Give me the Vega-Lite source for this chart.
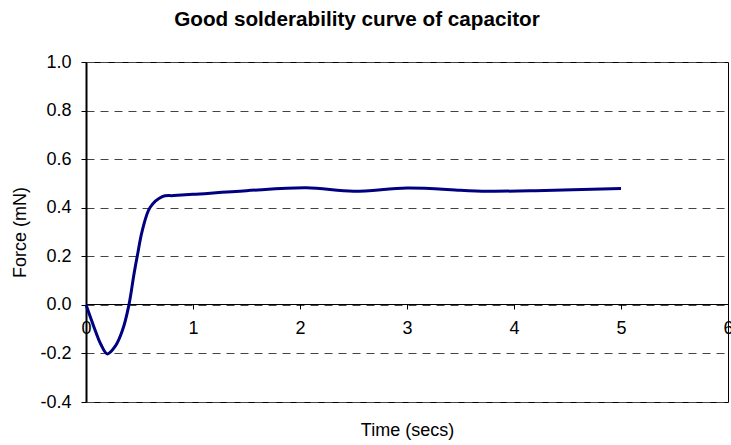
{
  "$schema": "https://vega.github.io/schema/vega-lite/v6.json",
  "width": 642,
  "height": 340,
  "autosize": {"type": "none"},
  "padding": {"left": 86, "top": 62, "right": 3, "bottom": 43},
  "background": "white",
  "title": {"text": "Good solderability curve of capacitor", "fontSize": 20.7, "fontWeight": "bold", "font": "Liberation Sans", "color": "black", "frame": "group", "anchor": "middle", "dx": -50, "offset": 22},
  "config": {"view": {"stroke": "black", "strokeWidth": 1}, "font": "Liberation Sans"},
  "data": {"values": [
    {"t": 0, "v": 0},
    {"t": 0.075, "v": -0.092},
    {"t": 0.137, "v": -0.161},
    {"t": 0.2, "v": -0.202},
    {"t": 0.277, "v": -0.168},
    {"t": 0.34, "v": -0.106},
    {"t": 0.4, "v": -0.003},
    {"t": 0.449, "v": 0.128},
    {"t": 0.48, "v": 0.203},
    {"t": 0.526, "v": 0.306},
    {"t": 0.6, "v": 0.402},
    {"t": 0.713, "v": 0.446},
    {"t": 0.82, "v": 0.45},
    {"t": 1.0, "v": 0.455},
    {"t": 1.5, "v": 0.47},
    {"t": 2.06, "v": 0.482},
    {"t": 2.5, "v": 0.468},
    {"t": 3.0, "v": 0.481},
    {"t": 3.5, "v": 0.472},
    {"t": 3.7, "v": 0.468},
    {"t": 4.2, "v": 0.47},
    {"t": 5.0, "v": 0.479}
  ]},
  "mark": {"type": "line", "color": "#000080", "strokeWidth": 3, "interpolate": "catmull-rom"},
  "encoding": {
    "x": {"field": "t", "type": "quantitative", "scale": {"domain": [0, 6], "nice": false},
      "axis": {"title": "Time (secs)", "values": [0, 1, 2, 3, 4, 5, 6], "format": "d", "offset": -98, "grid": false,
        "domainColor": "black", "tickColor": "black", "tickSize": 5, "labelPadding": 10, "labelFontSize": 18, "labelColor": "black",
        "labelFlush": false, "labelOverlap": false, "labelBound": false,
        "titleFontSize": 18, "titleFontWeight": "normal", "titleColor": "black", "titleY": 126, "titleBaseline": "middle"}},
    "y": {"field": "v", "type": "quantitative", "scale": {"domain": [-0.4, 1.0], "nice": false},
      "axis": {"title": "Force (mN)", "values": [-0.4, -0.2, 0, 0.2, 0.4, 0.6, 0.8, 1.0], "format": ".1f",
        "labelExpr": "replace(datum.label, '\u2212', '-')",
        "grid": true, "gridColor": "#444444", "gridDash": [8, 6], "gridWidth": 1, "gridOpacity": 1,
        "domainColor": "black", "domainWidth": 2, "tickColor": "black", "tickSize": 5, "labelPadding": 10, "labelFontSize": 18, "labelColor": "black",
        "labelOverlap": false, "labelFlush": false,
        "titleFontSize": 18, "titleFontWeight": "normal", "titleColor": "black", "titlePadding": 10}}
  }
}
